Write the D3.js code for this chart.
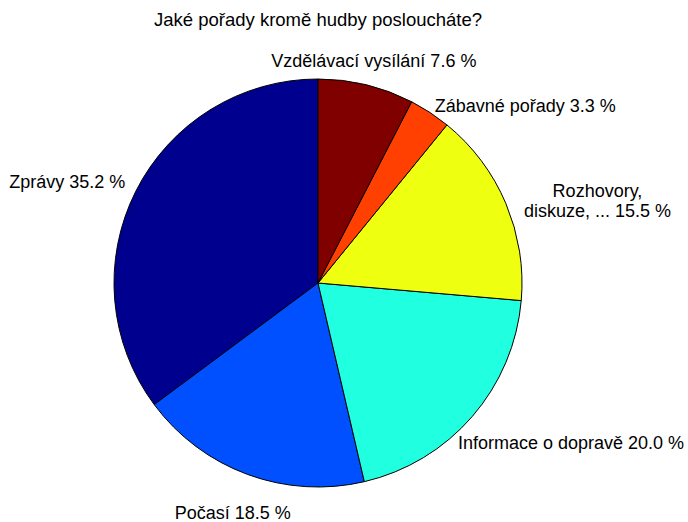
<!DOCTYPE html>
<html>
<head>
<meta charset="utf-8">
<script src="https://cdn.jsdelivr.net/npm/d3@7"></script>
<style>
  body { margin: 0; background: #fff; }
  text { font-family: "Liberation Sans", Arial, sans-serif; fill: #000; }
</style>
</head>
<body>
<svg width="688" height="522"></svg>
<script>
// slices in drawing order (counterclockwise from 12 o'clock)
var categories = ["Zprávy", "Počasí", "Informace o dopravě", "Rozhovory,\ndiskuze, ...", "Zábavné pořady", "Vzdělávací vysílání"];
var values = [35.2, 18.5, 20.0, 15.5, 3.3, 7.6];
var colors = ["#00008f", "#0050ff", "#20ffdf", "#efff10", "#ff4000", "#800000"];
var title = "Jaké pořady kromě hudby posloucháte?";

// label nudges from the 1.2*r point (layout only)
var labelShift = [[-32, 9], [-1, 0], [68, -1], [54, 13], [73, 27], [-2, 16]];

var svg = d3.select("svg"),
    cx = 318, cy = 283, r = 204,
    g = svg.append("g").attr("transform", "translate(" + cx + "," + cy + ")");

svg.append("text")
    .attr("x", cx)
    .attr("y", 26)
    .attr("text-anchor", "middle")
    .style("font-size", "18.5px")
    .text(title);

var pie = d3.pie()
    .sort(null)
    .startAngle(0)
    .endAngle(-2 * Math.PI);

var arcs = pie(values);

var arc = d3.arc()
    .innerRadius(0)
    .outerRadius(r);

g.selectAll(".slice")
  .data(arcs)
  .enter().append("path")
    .attr("class", "slice")
    .attr("d", arc)
    .attr("fill", function(d, i) { return colors[i]; })
    .attr("stroke", "#000")
    .attr("stroke-width", 1);

var labels = g.selectAll(".lbl")
  .data(arcs)
  .enter().append("text")
    .attr("class", "lbl")
    .attr("text-anchor", "middle")
    .style("font-size", "18px")
    .attr("transform", function(d, i) {
      var a = (d.startAngle + d.endAngle) / 2,
          x = Math.sin(a) * r * 1.2 + labelShift[i][0],
          y = -Math.cos(a) * r * 1.2 + labelShift[i][1];
      return "translate(" + x + "," + y + ")";
    });

labels.each(function(d, i) {
  var lines = (categories[i] + " " + values[i].toFixed(1) + " %").split("\n"),
      t = d3.select(this),
      n = lines.length;
  lines.forEach(function(s, k) {
    t.append("tspan")
      .attr("x", 0)
      .attr("dy", k === 0 ? (0.35 - (n - 1) * 0.575) + "em" : "1.15em")
      .text(s);
  });
});
</script>
</body>
</html>
